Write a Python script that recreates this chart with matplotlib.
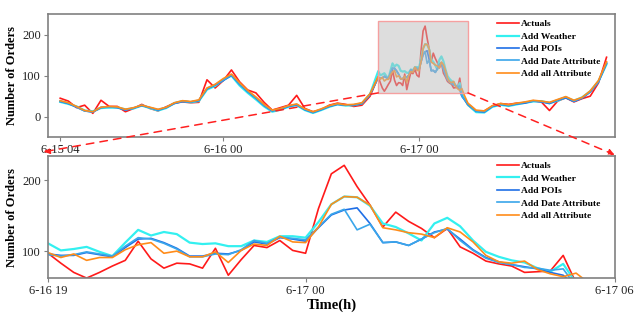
import numpy as np
import matplotlib
matplotlib.use("Agg")
import matplotlib.pyplot as plt
from matplotlib.patches import Rectangle, ConnectionPatch

plt.rcParams['font.family'] = ['Liberation Serif', 'DejaVu Serif']

names = ['Actuals', 'Add Weather', 'Add POIs', 'Add Date Attribute', 'Add all Attribute']
colors = ['#ff1a1a', '#33f0f0', '#1f6fe6', '#3aa6ea', '#ff8c1a']

# hourly values, 6-15 04 (h=0) .. 6-16 18 (h=38)
left = {
    'Actuals':            [45, 38, 22, 28, 8, 40, 25, 25, 12, 20, 30, 20, 14, 24, 33, 36, 34, 35, 90, 70, 88, 114, 85, 65, 58, 35, 16, 22, 28, 52, 20, 12, 17, 28, 33, 30, 25, 28, 50],
    'Add Weather':        [36, 31, 25, 15, 13, 21, 22, 22, 18, 20, 27, 21, 15, 21, 33, 38, 35, 38, 66, 75, 90, 100, 76, 58, 42, 25, 12, 17, 24, 28, 16, 9, 16, 24, 30, 27, 28, 32, 55],
    'Add POIs':           [37, 32, 23, 14, 11, 22, 24, 22, 16, 21, 27, 22, 16, 22, 32, 37, 36, 39, 68, 77, 88, 101, 79, 61, 45, 27, 14, 18, 25, 29, 17, 10, 17, 25, 30, 28, 28, 32, 54],
    'Add Date Attribute': [38, 33, 24, 14, 12, 23, 23, 23, 17, 21, 28, 22, 17, 23, 33, 38, 36, 40, 69, 78, 89, 102, 80, 62, 46, 28, 15, 19, 26, 30, 18, 11, 18, 26, 31, 28, 29, 33, 55],
    'Add all Attribute':  [39, 34, 25, 15, 12, 23, 25, 24, 18, 22, 28, 23, 18, 23, 34, 39, 37, 41, 70, 79, 93, 104, 83, 64, 48, 30, 16, 20, 27, 31, 19, 12, 19, 27, 32, 29, 30, 34, 56],
}

# 15-min values from 6-16 19 (h=39)
zoom = {
    'Actuals':            [97, 83, 70, 62, 70, 79, 87, 114, 89, 76, 83, 82, 76, 104, 66, 88, 108, 105, 115, 101, 97, 160, 209, 221, 191, 165, 134, 155, 142, 132, 119, 132, 106, 97, 86, 82, 79, 70, 71, 72, 94, 55],
    'Add Weather':        [111, 101, 103, 106, 99, 93, 112, 130, 122, 127, 124, 112, 110, 111, 107, 107, 115, 113, 121, 121, 119, 141, 166, 177, 176, 164, 139, 134, 125, 115, 139, 147, 135, 115, 99, 92, 87, 84, 76, 71, 82, 55],
    'Add POIs':           [96, 94, 94, 98, 95, 92, 105, 117, 118, 112, 104, 93, 93, 97, 96, 101, 113, 110, 119, 117, 114, 133, 151, 158, 161, 139, 112, 113, 108, 117, 127, 131, 117, 102, 91, 85, 81, 78, 75, 70, 66, 50],
    'Add Date Attribute': [95, 93, 95, 99, 96, 93, 107, 119, 117, 111, 103, 92, 92, 96, 95, 102, 115, 111, 120, 118, 116, 134, 152, 159, 130, 138, 112, 113, 108, 117, 126, 132, 115, 101, 90, 84, 81, 77, 76, 73, 75, 50],
    'Add all Attribute':  [98, 91, 96, 87, 91, 91, 102, 109, 112, 97, 100, 92, 92, 99, 84, 101, 110, 108, 121, 113, 112, 134, 166, 177, 176, 165, 133, 130, 126, 124, 119, 133, 127, 113, 94, 85, 83, 86, 74, 68, 64, 69, 55],
}

# hourly values, 6-17 02 (h=50) .. 6-17 19 (h=67)
right = {
    'Actuals':            [28, 12, 14, 25, 32, 30, 33, 34, 39, 36, 15, 38, 46, 36, 44, 50, 82, 145],
    'Add Weather':        [29, 11, 10, 24, 29, 26, 30, 34, 37, 38, 33, 39, 47, 39, 47, 62, 86, 128],
    'Add POIs':           [30, 13, 11, 25, 30, 27, 31, 33, 38, 36, 32, 40, 46, 37, 45, 60, 84, 130],
    'Add Date Attribute': [31, 14, 12, 26, 31, 28, 32, 35, 38, 37, 34, 41, 48, 38, 46, 61, 85, 132],
    'Add all Attribute':  [33, 16, 14, 27, 32, 29, 33, 36, 40, 38, 35, 42, 49, 40, 47, 63, 88, 134],
}

top_ticks = [0, 20, 44]
top_labels = ['6-15 04', '6-16 00', '6-17 00']
bot_ticks = [39, 44, 50]
bot_labels = ['6-16 19', '6-17 00', '6-17 06']

fig = plt.figure(figsize=(6.44, 3.16), dpi=100)
ax1 = fig.add_axes([0.0745, 0.566, 0.880, 0.389])
ax2 = fig.add_axes([0.0745, 0.120, 0.880, 0.386])

for name, c in zip(names, colors):
    lw = 1.6 if name == 'Add Weather' else 1.2
    zx = 39 + np.arange(len(zoom[name])) / 4
    x = np.concatenate([np.arange(39), zx, np.arange(50, 68)])
    y = np.concatenate([left[name], zoom[name], right[name]])
    ax1.plot(x, y, color=c, lw=lw, label=name)
    ax2.plot(zx, zoom[name], color=c, lw=lw, label=name)

# zoom box
ax1.add_patch(Rectangle((39, 58), 11, 176, facecolor='#bdbdbd', alpha=0.5,
                        edgecolor='none', zorder=5))
ax1.add_patch(Rectangle((39, 58), 11, 176, facecolor='none',
                        edgecolor='#f5a0a0', lw=1.0, zorder=6))

ax1.set_xlim(-1.5, 68)
ax1.set_ylim(-50, 250)
ax1.set_yticks([0, 100, 200])
ax1.set_xticks(top_ticks)
ax1.set_xticklabels(top_labels)

ax2.set_xlim(39, 50)
ax2.set_ylim(62, 234)
ax2.set_yticks([100, 200])
ax2.set_xticks(bot_ticks)
ax2.set_xticklabels(bot_labels)
ax2.set_xlabel('Time(h)', fontweight='bold', fontsize=10.5, labelpad=1)

for ax in (ax1, ax2):
    for s in ax.spines.values():
        s.set_color('#808080')
        s.set_linewidth(1.2)
    ax.tick_params(colors='#808080', labelcolor='#222222', labelsize=9, length=3, pad=2)
    ax.set_ylabel('Number of Orders', fontweight='bold', fontsize=9, labelpad=3)
    ax.legend(loc='upper right', bbox_to_anchor=(0.985, 1.0), frameon=False,
              prop={'weight': 'bold', 'size': 6.8}, handlelength=2.4,
              handletextpad=0.2, labelspacing=0.4, borderaxespad=0.2)

# dashed connectors
for xa, xb in [((39, 58), (-0.008, 1.035)), ((50, 58), (1.0, 1.01))]:
    con = ConnectionPatch(xyA=xa, coordsA=ax1.transData, xyB=xb, coordsB=ax2.transAxes,
                          arrowstyle='-|>', linestyle=(0, (5, 4)), color='#ff2020',
                          lw=1.1, mutation_scale=9, zorder=10)
    fig.add_artist(con)

fig.savefig('out.png', dpi=100)
